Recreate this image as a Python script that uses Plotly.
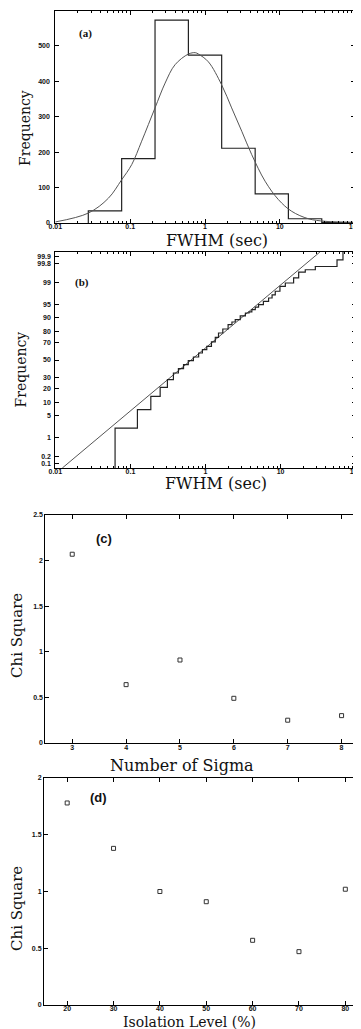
import plotly.graph_objects as go
from statistics import NormalDist

# ---------------- data ----------------
# (a) histogram of FWHM (log-spaced bins) and fitted curve
hist_edges = [0.0276, 0.077, 0.215, 0.60, 1.67, 4.68, 13.0, 36.3, 100]
hist_counts = [34, 182, 573, 474, 211, 82, 12, 2]
fit_a_x = [0.01, 0.0276, 0.0512, 0.077, 0.105, 0.1425, 0.215, 0.293, 0.398, 0.60,
           0.74, 0.817, 1.11, 1.67, 2.27, 3.1, 4.21, 6.35, 9.57, 14.4, 24.1, 40.3, 100]
fit_a_y = [3, 28, 70, 122, 165, 231, 325, 395, 447, 477,
           481, 477, 455, 390, 325, 259, 193, 118, 66, 33, 12, 4.8, 1]

# (b) cumulative distribution on probability scale (percent)
cdf_x = [0.0625, 0.0625, 0.124, 0.187, 0.249, 0.311, 0.374, 0.436, 0.51, 0.59, 0.69,
         0.81, 0.91, 1.04, 1.2, 1.35, 1.49, 1.7, 2.0, 2.25, 2.49, 2.9, 3.4, 3.8,
         4.14, 4.6, 5.09, 5.9, 6.92, 7.7, 8.49, 9.8, 11.56, 14.9, 17.4, 21.3, 29,
         56.4, 67.7]
cdf_p = [0.05, 2.1, 6.9, 13.9, 20.7, 27.8, 34.9, 39.8, 44.4, 49.2, 53.6,
         58.3, 62.1, 65.8, 70.5, 75.0, 79.0, 82.3, 85.5, 87.2, 88.6, 90.6, 92.0, 92.5,
         93.4, 94.3, 95.1, 96.0, 96.8, 97.4, 98.0, 98.6, 98.93, 99.29, 99.57, 99.65, 99.74,
         99.86, 99.97]
fit_b_x = [0.0124, 33.4]
fit_b_p = [0.0625, 99.9375]
prob_ticks = [0.1, 0.2, 1, 5, 10, 20, 30, 50, 70, 80, 90, 95, 99, 99.8, 99.9]
prob_labels = ["0.1", "0.2", "1", "5", "10", "20", "30", "50", "70", "80", "90",
               "95", "99", "99.8", "99.9"]

# (c) chi square vs number of sigma
sigma_n = [3, 4, 5, 6, 7, 8]
chi_sigma = [2.07, 0.64, 0.91, 0.49, 0.25, 0.30]

# (d) chi square vs isolation level
iso_level = [20, 30, 40, 50, 60, 70, 80]
chi_iso = [1.78, 1.38, 1.00, 0.91, 0.57, 0.47, 1.02]

log_ticks = [0.01, 0.1, 1, 10, 100]
log_labels = ["0.01", "0.1", "1", "10", "100"]

# ---------------- helpers ----------------
W, H = 361, 1029
zq = NormalDist().inv_cdf


def px(x):
    return x / W


def py(y):
    return 1 - y / H


def ydom(top, bottom):
    return [py(bottom), py(top)]


tickfont = dict(family="Liberation Sans", size=7, color="#111", weight="bold")
serif = "DejaVu Serif"

fig = go.Figure()

# (a)
hx = [hist_edges[0]] + hist_edges
hy = [0] + hist_counts + [hist_counts[-1]]
fig.add_trace(go.Scatter(x=hx, y=hy, mode="lines", line=dict(color="#222", width=1.2, shape="hv"),
                         xaxis="x", yaxis="y", showlegend=False))
fig.add_trace(go.Scatter(x=fit_a_x, y=fit_a_y, mode="lines",
                         line=dict(color="#555", width=1, shape="spline"),
                         xaxis="x", yaxis="y", showlegend=False))

# (b)
fig.add_trace(go.Scatter(x=fit_b_x, y=[zq(p / 100) for p in fit_b_p], mode="lines",
                         line=dict(color="#555", width=1), xaxis="x2", yaxis="y2", showlegend=False))
fig.add_trace(go.Scatter(x=cdf_x, y=[zq(p / 100) for p in cdf_p], mode="lines",
                         line=dict(color="#222", width=1.2, shape="hv"),
                         xaxis="x2", yaxis="y2", showlegend=False))

# (c)
fig.add_trace(go.Scatter(x=sigma_n, y=chi_sigma, mode="markers",
                         marker=dict(symbol="square-open", size=4, color="#333", line=dict(width=1)),
                         xaxis="x3", yaxis="y3", showlegend=False))
# (d)
fig.add_trace(go.Scatter(x=iso_level, y=chi_iso, mode="markers",
                         marker=dict(symbol="square-open", size=4, color="#333", line=dict(width=1)),
                         xaxis="x4", yaxis="y4", showlegend=False))

minor_vals = [m * 10 ** k for k in (-2, -1, 0, 1) for m in range(2, 10)]

common = dict(showline=True, linecolor="black", linewidth=1, mirror="ticks", ticks="inside",
              tickcolor="black", ticklen=4, showgrid=False, zeroline=False, tickfont=tickfont,
              automargin=False)

logx = dict(common, type="log", range=[-2, 2], tickmode="array", tickvals=log_ticks,
            ticktext=log_labels, ticklabelstandoff=-3,
            minor=dict(tickmode="array", tickvals=minor_vals, ticks="inside", ticklen=2,
                       tickcolor="black", showgrid=False))

fig.update_layout(
    width=W, height=H, margin=dict(l=0, r=0, t=0, b=0, autoexpand=False),
    paper_bgcolor="white", plot_bgcolor="white",
    xaxis=dict(logx, domain=[px(47.3), px(346.7)], anchor="y"),
    yaxis=dict(common, domain=ydom(2.5, 215), range=[0, 600], tickmode="array",
               tickvals=[0, 100, 200, 300, 400, 500, 600], anchor="x", ticklabelstandoff=3),
    xaxis2=dict(logx, domain=[px(47.3), px(347.7)], anchor="y2"),
    yaxis2=dict(common, domain=ydom(244, 460), range=[-3.227, 3.227], tickmode="array",
                tickvals=[zq(p / 100) for p in prob_ticks], ticktext=prob_labels, anchor="x2",
                ticklabelstandoff=2),
    xaxis3=dict(common, domain=[px(37.3), px(360.5)], range=[2.5, 8.5], tickmode="array",
                tickvals=[3, 4, 5, 6, 7, 8], anchor="y3", ticklabelstandoff=-2),
    yaxis3=dict(common, domain=ydom(507, 735), range=[0, 2.5], tickmode="array",
                tickvals=[0, 0.5, 1, 1.5, 2, 2.5], ticktext=["0", "0.5", "1", "1.5", "2", "2.5"],
                anchor="x3"),
    xaxis4=dict(common, domain=[px(36), px(360.5)], range=[15, 85], tickmode="array",
                tickvals=[20, 30, 40, 50, 60, 70, 80], anchor="y4", ticklabelstandoff=-3),
    yaxis4=dict(common, domain=ydom(770, 997), range=[0, 2], tickmode="array",
                tickvals=[0, 0.5, 1, 1.5, 2], ticktext=["0", "0.5", "1", "1.5", "2"], anchor="x4"),
)


def note(text, x, y, size, family=serif, angle=0, weight="normal"):
    fig.add_annotation(text=text, x=px(x), y=py(y), xref="paper", yref="paper",
                       showarrow=False, textangle=angle, xanchor="center", yanchor="middle",
                       font=dict(family=family, size=size, color="#111", weight=weight))


note("FWHM (sec)", 209, 232, 16)
note("Frequency", 17, 120, 14, angle=-90)
note("FWHM (sec)", 208, 475, 16)
note("Frequency", 12.5, 362, 14, angle=-90)
note("Number of Sigma", 174, 757, 16)
note("Chi Square", 9, 628, 15, angle=-90)
note("Isolation Level (%)", 181, 1014, 14)
note("Chi Square", 9, 901, 15, angle=-90)

note("(a)", 77, 26, 11, family="Liberation Serif", weight="bold")
note("(b)", 73.5, 274, 11, family="Liberation Serif", weight="bold")
note("(c)", 95.5, 530, 13, family="Liberation Sans", weight="bold")
note("(d)", 90.5, 789, 13, family="Liberation Sans", weight="bold")

fig.write_html("out.html")
